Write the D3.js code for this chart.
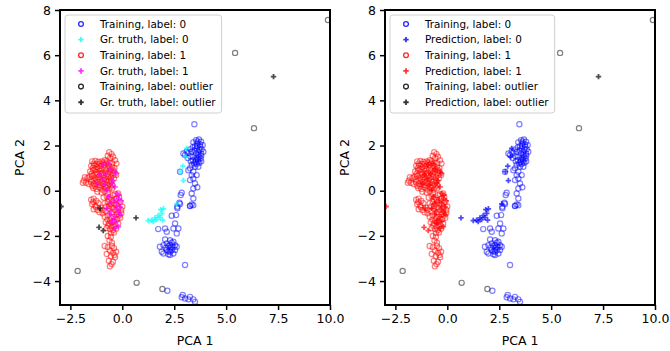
<!DOCTYPE html>
<html>
<head>
<meta charset="utf-8">
<script src="https://cdn.jsdelivr.net/npm/d3@7"></script>
<style>
  body { margin: 0; background: #fff; }
  text { font-family: "DejaVu Sans", sans-serif; fill: #000; }
</style>
</head>
<body>
<div id="chart"></div>
<script>
// PCA scatter: training points vs ground truth (left) and prediction (right)

// Training points, label 0 (blue circles)
const train0 = [
    [3.47, 2.94], [3.42, 2.14], [3.55, 2.24], [3.69, 2.27], [3.79, 2.17], [3.87, 2.02], [3.74, 2.05],
    [3.61, 2.09], [3.50, 1.98], [3.39, 1.92], [3.26, 1.83], [3.10, 1.73], [2.94, 1.65], [3.02, 1.58],
    [3.18, 1.68], [3.34, 1.73], [3.58, 1.87], [3.71, 1.80], [3.82, 1.83], [3.90, 1.73], [3.79, 1.65],
    [3.66, 1.58], [3.55, 1.65], [3.42, 1.50], [3.55, 1.36], [3.66, 1.39], [3.77, 1.43], [3.71, 1.24],
    [3.58, 1.18], [3.45, 1.21], [3.34, 1.14], [3.50, 1.06], [3.66, 1.06], [3.26, 0.99], [3.18, 0.91],
    [3.62, 2.18], [3.75, 1.95], [3.60, 1.97], [3.48, 1.78], [3.65, 1.72], [3.80, 1.55], [3.70, 1.50],
    [3.58, 1.45], [3.65, 1.30], [3.80, 1.30], [3.52, 1.28], [3.40, 1.35], [3.28, 1.52], [3.30, 1.30],
    [3.15, 1.45],
    [3.42, 0.84], [3.34, 0.69], [3.58, 0.69], [3.42, 0.54], [3.26, 0.47], [3.50, 0.32], [3.61, 0.15],
    [3.42, 0.10], [3.34, -0.12], [3.42, -0.34], [3.26, -0.67], [3.34, -0.61], [2.78, 0.84], [2.86, -0.09],
    [2.81, -0.19], [2.75, -0.53], [2.65, -0.71], [2.78, -0.59], [2.65, -0.78], [3.26, -0.68], [3.42, -0.64],
    [2.38, -1.11], [2.59, -1.08], [1.73, -1.70], [2.06, -1.67], [2.46, -1.67], [2.70, -1.67], [2.54, -1.45],
    [2.62, -1.89], [2.14, -1.82], [2.06, -2.16], [2.30, -2.19], [2.46, -2.26], [1.81, -2.48], [1.98, -2.41],
    [2.22, -2.45], [2.38, -2.48], [2.54, -2.41], [1.90, -2.70], [2.14, -2.63], [2.30, -2.70], [2.46, -2.78],
    [2.30, -2.55], [2.14, -2.33], [2.38, -2.30], [2.54, -2.63], [1.98, -2.78], [2.22, -2.81], [2.62, -2.48],
    [2.30, -2.40], [2.38, -2.62], [2.22, -2.68], [2.46, -2.50], [2.30, -2.85], [2.10, -2.52],
    [3.02, -3.29], [2.17, -4.43], [2.86, -4.72], [3.02, -4.77], [3.18, -4.81], [3.42, -4.81], [2.91, -4.62],
    [3.26, -4.70], [3.50, -4.92]
];

// Training points, label 1 (red circles)
const train1 = [
    [-0.63, 1.70], [-0.52, 1.62], [-0.70, 1.55], [-0.45, 1.50], [-0.58, 1.45],
    [-1.45, 1.30], [-1.30, 1.32], [-1.15, 1.28], [-1.00, 1.30], [-0.85, 1.35], [-0.75, 1.30], [-0.35, 1.35], [-0.28, 1.20],
    [-1.38, 1.20], [-1.22, 1.18], [-1.08, 1.20], [-0.92, 1.25], [-0.78, 1.20], [-0.62, 1.25], [-0.48, 1.22],
    [-1.50, 1.10], [-1.35, 1.12], [-1.20, 1.05], [-1.05, 1.10], [-0.90, 1.15], [-0.65, 1.10], [-0.50, 1.05], [-0.38, 1.00],
    [-1.42, 1.00], [-1.28, 0.95], [-1.12, 0.98], [-0.98, 0.95], [-0.82, 1.02], [-0.68, 0.98], [-0.55, 0.95], [-0.42, 0.90],
    [-1.55, 0.85], [-1.40, 0.90], [-1.25, 0.82], [-1.10, 0.88], [-0.95, 0.80], [-0.80, 0.90], [-0.60, 0.85], [-0.45, 0.80], [-0.30, 0.70],
    [-1.48, 0.75], [-1.32, 0.72], [-1.18, 0.72], [-1.02, 0.75], [-0.88, 0.70], [-0.72, 0.75], [-0.58, 0.72], [-0.45, 0.68],
    [-1.60, 0.62], [-1.45, 0.65], [-1.30, 0.55], [-1.15, 0.60], [-1.00, 0.65], [-0.85, 0.55], [-0.70, 0.62], [-0.55, 0.58], [-0.40, 0.55],
    [-1.52, 0.50], [-1.38, 0.45], [-1.22, 0.48], [-1.08, 0.50], [-0.92, 0.45], [-0.78, 0.48], [-0.65, 0.45], [-0.52, 0.42],
    [-1.85, 0.45], [-1.75, 0.35], [-1.68, 0.55], [-1.62, 0.30], [-1.80, 0.60], [-1.90, 0.35],
    [-1.50, 0.38], [-1.35, 0.30], [-1.20, 0.40], [-1.05, 0.35], [-0.90, 0.30], [-0.75, 0.38], [-0.60, 0.32], [-0.48, 0.25],
    [-1.45, 0.22], [-1.30, 0.20], [-1.15, 0.25], [-1.00, 0.22], [-0.85, 0.18], [-0.70, 0.22], [-0.55, 0.18],
    [-1.40, 0.12], [-1.25, 0.08], [-1.10, 0.15], [-0.95, 0.05], [-0.80, 0.12], [-0.65, 0.05], [-0.50, 0.10],
    [-1.20, -0.05], [-1.00, -0.08], [-0.85, -0.02], [-0.70, -0.10],
    [-1.50, -0.40], [-1.38, -0.35], [-1.25, -0.45], [-1.45, -0.60], [-1.30, -0.65], [-1.15, -0.55], [-1.20, -0.85], [-1.05, -0.75], [-1.38, -0.82],
    [-1.40, -0.50], [-1.28, -0.72], [-1.10, -0.95], [-0.95, -1.00],
    [-0.90, -0.30], [-0.75, -0.25], [-0.60, -0.30], [-0.45, -0.20], [-0.30, -0.35], [-0.15, -0.30],
    [-0.65, -0.38], [-0.50, -0.42], [-0.35, -0.15], [-0.20, -0.12],
    [-0.85, -0.55], [-0.70, -0.50], [-0.55, -0.60], [-0.40, -0.55], [-0.25, -0.60], [-0.10, -0.50], [0.00, -0.70],
    [-0.78, -0.70], [-0.62, -0.68], [-0.48, -0.75], [-0.32, -0.62], [-0.18, -0.75], [-0.05, -0.85],
    [-0.95, -0.85], [-0.80, -0.90], [-0.65, -0.80], [-0.50, -0.95], [-0.35, -0.85], [-0.20, -0.95], [-0.05, -1.00],
    [-0.85, -1.15], [-0.70, -1.10], [-0.55, -1.20], [-0.40, -1.15], [-0.25, -1.25], [-0.10, -1.20],
    [-0.72, -1.28], [-0.58, -1.32], [-0.42, -1.35], [-0.28, -1.05], [-0.15, -1.10],
    [-0.80, -1.40], [-0.65, -1.45], [-0.50, -1.40], [-0.35, -1.50], [-0.20, -1.45],
    [-0.68, -1.55], [-0.52, -1.58], [-0.38, -1.60],
    [-0.75, -1.65], [-0.60, -1.70], [-0.45, -1.75], [-0.30, -1.68], [-0.55, -1.88], [-0.40, -1.85],
    [-0.70, -2.00], [-0.55, -2.05], [-0.62, -2.20], [-0.50, -2.30], [-0.85, -2.45], [-0.70, -2.50], [-0.50, -2.45], [-0.40, -2.55],
    [-0.60, -2.65], [-0.45, -2.75], [-0.30, -2.70], [-0.75, -2.80], [-0.55, -2.90], [-0.38, -2.85], [-0.35, -2.95], [-0.65, -3.10],
    [-0.45, -3.15], [-0.52, -3.25], [-0.60, -3.35]
];

// Training outliers (black circles)
const trainOutlier = [
    [9.90, 7.56], [5.43, 6.10], [6.34, 2.77], [-2.15, -3.55], [0.69, -4.08], [1.93, -4.35]
];

// Test points, with ground-truth and predicted labels
const testPoints = [
    [1.25, -1.32], [1.41, -1.30], [1.49, -1.37], [1.57, -1.20], [1.65, -1.28], [1.73, -1.10], [1.81, -1.18],
    [1.90, -1.00], [1.85, -0.84], [1.98, -0.80], [1.94, -1.30], [2.62, -0.58], [2.94, 0.45], [2.91, 1.09],
    [3.10, 1.87], [3.05, 1.50], [2.80, 0.84],
    [-0.92, 1.14], [-0.67, 1.21], [-0.35, 0.84], [-0.27, 0.77], [-0.51, 0.32], [-0.35, 0.17], [-0.27, -0.12],
    [-0.19, -0.34], [-0.27, -0.56], [-0.11, -0.71], [-0.19, -0.93], [-0.35, -1.15], [-0.27, -1.37], [-0.19, -1.59],
    [-0.35, -1.66], [-0.51, -1.43], [-0.75, 0.03], [-0.67, -0.27], [-0.59, -0.56], [-0.75, -0.78], [-0.54, -0.93],
    [-1.10, 0.70], [-0.95, 0.50], [-1.20, 0.30], [-0.80, 0.75], [-0.60, 0.95], [-0.45, 0.45], [-0.15, -0.20],
    [-0.05, -0.45], [-0.10, -1.05], [-0.45, -1.30], [-0.30, -0.80], [-0.60, -1.05], [-0.40, -0.40], [-0.85, 0.25],
    [7.28, 5.05], [-2.95, -0.70], [-1.07, -0.78], [-1.12, -1.62], [-0.92, -1.77], [0.66, -1.20]
];
const truthLabels = [
    0, 0, 0, 0, 0, 0, 0, 0, 0, 0, 0, 0, 0, 0, 0, 0, 0,
    1, 1, 1, 1, 1, 1, 1, 1, 1, 1, 1, 1, 1, 1, 1, 1, 1, 1, 1, 1, 1,
    1, 1, 1, 1, 1, 1, 1, 1, 1, 1, 1, 1, 1, 1,
    "outlier", "outlier", "outlier", "outlier", "outlier", "outlier"
];
const predLabels = [
    0, 0, 0, 0, 0, 0, 0, 0, 0, 0, 0, 0, 0, 0, 0, 0, 0,
    1, 1, 1, 1, 1, 1, 1, 1, 1, 1, 1, 1, 1, 1, 1, 1, 1, 1, 1, 1, 1,
    1, 1, 1, 1, 1, 1, 1, 1, 1, 1, 1, 1, 1, 1,
    "outlier", 1, 1, 1, 1, 0
];

// Axis ticks
const xTicks = [-2.5, 0, 2.5, 5, 7.5, 10];
const yTicks = [-4, -2, 0, 2, 4, 6, 8];

const width = 670, height = 351;
const plotW = 270, plotTop = 10, plotBottom = 305;

var svg = d3.select("#chart").append("svg")
    .attr("width", width)
    .attr("height", height);

var yScale = d3.scaleLinear()
    .domain([-5.06, 8])
    .range([plotBottom, plotTop]);

const labelColors = {0: "blue", 1: "red", outlier: "black"};
const crossColors = {truth: {0: "cyan", 1: "magenta", outlier: "black"},
                     pred: {0: "blue", 1: "red", outlier: "black"}};
const crossPath = d3.symbol().type(d3.symbolCross).size(16)();

function drawPanel(left, labels, kind, name) {
    var xScale = d3.scaleLinear()
        .domain([-3, 10])
        .range([left, left + plotW]);

    var g = svg.append("g");

    // clip so points stay inside the frame
    var clipId = "clip-" + kind;
    g.append("clipPath").attr("id", clipId)
        .append("rect")
        .attr("x", left).attr("y", plotTop)
        .attr("width", plotW).attr("height", plotBottom - plotTop);
    var pts = g.append("g").attr("clip-path", "url(#" + clipId + ")");

    function circles(data, color) {
        pts.append("g").selectAll("circle")
            .data(data)
            .enter()
            .append("circle")
                .attr("cx", d => xScale(d[0]))
                .attr("cy", d => yScale(d[1]))
                .attr("r", 2.6)
                .attr("fill", "none")
                .attr("stroke", color)
                .attr("stroke-opacity", 0.5)
                .attr("stroke-width", 1.2);
    }
    function crosses(label) {
        var data = testPoints.filter((p, i) => labels[i] === label);
        pts.append("g").selectAll("path")
            .data(data)
            .enter()
            .append("path")
                .attr("d", crossPath)
                .attr("transform", d => "translate(" + xScale(d[0]) + "," + yScale(d[1]) + ")")
                .attr("fill", crossColors[kind][label])
                .attr("fill-opacity", 0.7);
    }

    // same order as the legend
    circles(train0, labelColors[0]);
    crosses(0);
    circles(train1, labelColors[1]);
    crosses(1);
    circles(trainOutlier, labelColors.outlier);
    crosses("outlier");

    // Axes
    var xAxis = g.append("g")
        .attr("transform", "translate(0," + plotBottom + ")")
        .call(d3.axisBottom(xScale).tickValues(xTicks).tickFormat(d3.format(".1f")).tickSize(5).tickPadding(4));
    var yAxis = g.append("g")
        .attr("transform", "translate(" + left + ",0)")
        .call(d3.axisLeft(yScale).tickValues(yTicks).tickFormat(d3.format("d")).tickSize(5).tickPadding(4));
    [xAxis, yAxis].forEach(a => {
        a.select(".domain").remove();
        a.selectAll("line").attr("stroke", "#000").attr("stroke-width", 1.5);
        a.selectAll("text").style("font-size", "12.5px").style("font-family", "DejaVu Sans");
    });

    // Frame
    g.append("rect")
        .attr("x", left).attr("y", plotTop)
        .attr("width", plotW).attr("height", plotBottom - plotTop)
        .attr("fill", "none")
        .attr("stroke", "#000")
        .attr("stroke-width", 2);

    // Axis labels
    g.append("text")
        .attr("x", left + plotW / 2)
        .attr("y", 345)
        .style("text-anchor", "middle")
        .style("font-size", "12.5px")
        .text("PCA 1");
    g.append("text")
        .attr("transform", "rotate(-90)")
        .attr("x", -(plotTop + plotBottom) / 2)
        .attr("y", left - 36)
        .style("text-anchor", "middle")
        .style("font-size", "12.5px")
        .text("PCA 2");

    // Legend
    var entries = [
        {text: "Training, label: 0", label: 0, cross: false},
        {text: name + ", label: 0", label: 0, cross: true},
        {text: "Training, label: 1", label: 1, cross: false},
        {text: name + ", label: 1", label: 1, cross: true},
        {text: "Training, label: outlier", label: "outlier", cross: false},
        {text: name + ", label: outlier", label: "outlier", cross: true}
    ];
    var leg = g.append("g");
    var box = leg.append("rect")
        .attr("x", left + 5).attr("y", 15)
        .attr("height", 98)
        .attr("rx", 3)
        .attr("fill", "#fff").attr("fill-opacity", 0.8)
        .attr("stroke", "#d0d0d0").attr("stroke-width", 1);
    var maxW = 0;
    entries.forEach((e, i) => {
        var y = 24 + i * 15.65;
        if (e.cross) {
            leg.append("path")
                .attr("d", crossPath)
                .attr("transform", "translate(" + (left + 21) + "," + y + ")")
                .attr("fill", crossColors[kind][e.label])
                .attr("fill-opacity", 0.8);
        } else {
            leg.append("circle")
                .attr("cx", left + 21).attr("cy", y).attr("r", 2.4)
                .attr("fill", "none")
                .attr("stroke", labelColors[e.label])
                .attr("stroke-opacity", 0.85)
                .attr("stroke-width", 1.3);
        }
        var t = leg.append("text")
            .attr("x", left + 40).attr("y", y)
            .attr("dy", "0.36em")
            .style("font-size", "10.4px")
            .text(e.text);
        maxW = Math.max(maxW, t.node().getComputedTextLength());
    });
    box.attr("width", maxW + 41);
}

drawPanel(60, truthLabels, "truth", "Gr. truth");
drawPanel(385, predLabels, "pred", "Prediction");
</script>
</body>
</html>
